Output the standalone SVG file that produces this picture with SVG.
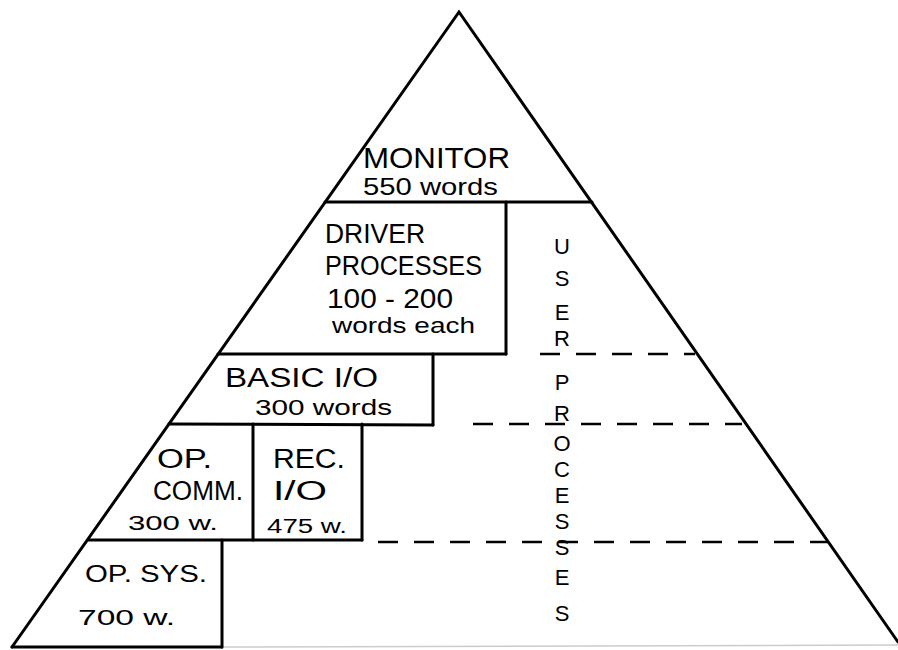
<svg xmlns="http://www.w3.org/2000/svg" width="898" height="650" viewBox="0 0 898 650">
<style>
.ln{stroke:#000;stroke-width:3;fill:none;stroke-linecap:round}
.dash{stroke:#000;stroke-width:2.5;fill:none;stroke-dasharray:20 16}
text{font-family:"Liberation Sans","DejaVu Sans",sans-serif;fill:#000}
.big{font-size:27px}
.mid{font-size:22px}
.sm{font-size:20px}
.up{font-size:22px;text-anchor:middle}
</style>
<rect width="898" height="650" fill="#fff"/>
<g id="pyramid">
<polyline class="ln" points="12,647 459,12 898,642"/>
<line class="ln" x1="12" y1="647" x2="222" y2="647"/>
<line x1="222" y1="647" x2="898" y2="645" stroke="#ccc" stroke-width="1.5"/>
</g>
<g id="monitor">
<line class="ln" x1="325" y1="202" x2="592" y2="202"/>
<text x="363" y="168" font-size="30" textLength="147" lengthAdjust="spacingAndGlyphs">MONITOR</text>
<text x="363" y="195" font-size="24" textLength="135" lengthAdjust="spacingAndGlyphs">550 words</text>
</g>
<g id="driver">
<line class="ln" x1="506" y1="202" x2="506" y2="354"/>
<line class="ln" x1="218" y1="354" x2="506" y2="354"/>
<text class="big" x="325" y="243" textLength="100" lengthAdjust="spacingAndGlyphs">DRIVER</text>
<text class="big" x="325" y="275" textLength="157" lengthAdjust="spacingAndGlyphs">PROCESSES</text>
<text class="big" x="327" y="308" textLength="126" lengthAdjust="spacingAndGlyphs">100 - 200</text>
<text class="mid" x="332" y="333" textLength="143" lengthAdjust="spacingAndGlyphs">words each</text>
</g>
<g id="basic-io">
<line class="ln" x1="433" y1="354" x2="433" y2="425"/>
<line class="ln" x1="169" y1="424" x2="433" y2="425"/>
<text class="big" x="225" y="387" textLength="153" lengthAdjust="spacingAndGlyphs">BASIC I/O</text>
<text class="mid" x="255" y="415" textLength="137" lengthAdjust="spacingAndGlyphs">300 words</text>
</g>
<g id="op-comm">
<line class="ln" x1="253" y1="424" x2="253" y2="540"/>
<line class="ln" x1="88" y1="540" x2="362" y2="540"/>
<text class="big" x="157" y="468" textLength="55" lengthAdjust="spacingAndGlyphs">OP.</text>
<text class="big" x="153" y="500" textLength="90" lengthAdjust="spacingAndGlyphs">COMM.</text>
<text class="sm" x="128" y="530" textLength="90" lengthAdjust="spacingAndGlyphs">300 w.</text>
</g>
<g id="rec-io">
<line class="ln" x1="362" y1="424" x2="362" y2="540"/>
<text class="big" x="273" y="468" textLength="72" lengthAdjust="spacingAndGlyphs">REC.</text>
<text class="big" x="273" y="500" textLength="54" lengthAdjust="spacingAndGlyphs">I/O</text>
<text class="sm" x="267" y="533" textLength="80" lengthAdjust="spacingAndGlyphs">475 w.</text>
</g>
<g id="op-sys">
<line class="ln" x1="222" y1="540" x2="222" y2="647"/>
<text x="85" y="582" font-size="24" textLength="122" lengthAdjust="spacingAndGlyphs">OP. SYS.</text>
<text class="mid" x="78" y="625" textLength="97" lengthAdjust="spacingAndGlyphs">700 w.</text>
</g>
<g id="connectors">
<line class="dash" x1="540" y1="354" x2="695" y2="354"/>
<line class="dash" x1="473" y1="424" x2="742" y2="424"/>
<line class="dash" x1="378" y1="542" x2="828" y2="542"/>
</g>
<g id="user-processes">
<text class="up" x="562" y="254">U</text>
<text class="up" x="562" y="286">S</text>
<text class="up" x="562" y="320">E</text>
<text class="up" x="562" y="346">R</text>
<text class="up" x="562" y="390">P</text>
<text class="up" x="562" y="421">R</text>
<text class="up" x="562" y="451">O</text>
<text class="up" x="562" y="477">C</text>
<text class="up" x="562" y="503">E</text>
<text class="up" x="562" y="529">S</text>
<text class="up" x="562" y="555">S</text>
<text class="up" x="562" y="585">E</text>
<text class="up" x="562" y="621">S</text>
</g>
</svg>
